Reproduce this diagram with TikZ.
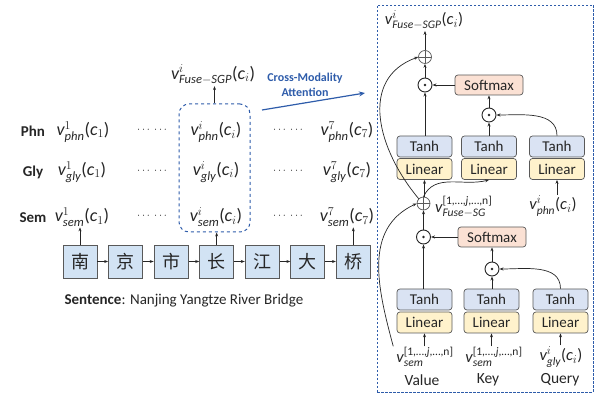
\documentclass[tikz,border=0pt]{standalone}
\usepackage{amsmath}
\usepackage{fontspec}
\setmainfont{Carlito}
\newfontfamily\cjk{Noto Sans CJK SC}
\usetikzlibrary{positioning,arrows.meta}

\definecolor{lineblue}{RGB}{46,92,170}
\definecolor{chrblue}{RGB}{210,227,244}
\definecolor{tanhblue}{RGB}{218,227,243}
\definecolor{linyellow}{RGB}{255,242,204}
\definecolor{smred}{RGB}{251,225,212}
\definecolor{edge}{RGB}{89,89,89}
\definecolor{ink}{RGB}{38,38,38}

% v with super/subscript, and its argument
\newcommand{\vsym}[2]{$\textit{v}^{#1}_{#2}$}
\newcommand{\carg}[1]{(\textit{c}$_{#1}$)}

\begin{document}
\begin{tikzpicture}[x=1pt,y=1pt,
  every node/.style={text=ink},
  arr/.style={-{Stealth[length=4pt,width=3pt]},line width=0.7pt,draw=ink},
  rowlbl/.style={font=\bfseries\fontsize{15}{17}\selectfont},
  vbig/.style={inner sep=1pt,font=\fontsize{18}{20}\selectfont},
  vsmall/.style={inner sep=1pt,font=\fontsize{16.5}{18}\selectfont},
  dots/.style={font=\fontsize{11}{12}\selectfont},
  chr/.style={draw=edge,fill=chrblue,line width=0.8pt,minimum width=34pt,minimum height=33pt,
    inner sep=0pt,font=\cjk\fontsize{18}{18}\selectfont},
  tanhbox/.style={draw=edge,fill=tanhblue,rounded corners=3pt,line width=0.7pt,
    minimum width=55pt,minimum height=21pt,inner sep=0pt,font=\fontsize{15}{16}\selectfont},
  linbox/.style={tanhbox,fill=linyellow},
  smbox/.style={tanhbox,fill=smred,minimum width=68pt,minimum height=20pt},
  oplus/.style={circle,draw=edge,line width=0.7pt,minimum size=13pt,inner sep=0pt,
    path picture={\draw[edge,line width=0.7pt] (path picture bounding box.north) -- (path picture bounding box.south)
      (path picture bounding box.west) -- (path picture bounding box.east);}},
  odot/.style={circle,draw=ink,line width=0.9pt,minimum size=14pt,inner sep=0pt,
    path picture={\fill[ink] (path picture bounding box.center) circle (1.3pt);}},
  word/.style={font=\fontsize{15.5}{17}\selectfont}]
\useasboundingbox (0,0) rectangle (603,396);

% --- left: rows of features ---
\foreach \y/\name in {265/Phn,224/Gly,178/Sem}
  \node[rowlbl] (r\name) at (33,\y) {\name};

\node[vbig] (phn1) at (83,264) {\vsym{1}{\textit{phn}}\carg{1}};
\node[vbig] (gly1) at (82,224) {\vsym{1}{\textit{gly}}\carg{1}};
\node[vbig] (sem1) at (82,179) {\vsym{1}{\textit{sem}}\carg{1}};
\node[vbig] (phni) at (216,264) {\vsym{i}{\textit{phn}}\carg{i}};
\node[vbig] (glyi) at (216,224) {\vsym{i}{\textit{gly}}\carg{i}};
\node[vbig] (semi) at (216,179) {\vsym{i}{\textit{sem}}\carg{i}};
\node[vbig] (phn7) at (347,264) {\vsym{7}{\textit{phn}}\carg{7}};
\node[vbig] (gly7) at (347,224) {\vsym{7}{\textit{gly}}\carg{7}};
\node[vbig] (sem7) at (347,179) {\vsym{7}{\textit{sem}}\carg{7}};

\foreach \y/\r in {266/a,225/b,180/c} {
  \node[dots] (dl\r) at (153,\y) {$\cdots$ $\cdots$};
  \node[dots] (dr\r) at (289,\y) {$\cdots$ $\cdots$};
}

% selected character
\node[draw=lineblue,dashed,line width=1pt,rounded corners=10pt,
  minimum width=71pt,minimum height=128pt] (sel) at (214.5,228) {};
\node[vbig] (fuseL) at (213,321) {\vsym{i}{\textit{Fuse}-\textit{SGP}}\carg{i}};
\draw[arr] (sel.north) -- (sel.north |- fuseL.south);

% cross-modality attention
\node[align=center,text=lineblue,font=\bfseries\fontsize{12}{15}\selectfont] (attn) at (305,311) {Cross-Modality\\Attention};
\coordinate (att0) at (262,286);
\coordinate (att1) at (365,303);
\draw[-{Stealth[length=6pt,width=5pt]},line width=1.2pt,lineblue] (att0) -- (att1);

% --- sentence ---
\node[chr] (c1) at (80,134.5) {南};
\node[chr,right=10.75pt of c1] (c2) {京};
\node[chr,right=10.75pt of c2] (c3) {市};
\node[chr,right=10.75pt of c3] (c4) {长};
\node[chr,right=10.75pt of c4] (c5) {江};
\node[chr,right=10.75pt of c5] (c6) {大};
\node[chr,right=10.75pt of c6] (c7) {桥};
\foreach \a/\b in {c1/c2,c2/c3,c3/c4,c4/c5,c5/c6,c6/c7}
  \draw[arr] (\a) -- (\b);
\draw[arr] (c1.north) -- (c1.north |- sem1.south);
\draw[arr] (c4.north) -- (c4.north |- sel.south);
\draw[arr] (c7.north) -- (c7.north |- sem7.south);

\node[anchor=west,font=\fontsize{15}{17}\selectfont] (sent) at (61,95) {\textbf{Sentence}: Nanjing Yangtze River Bridge};

% --- right: attention block ---
\node[draw=lineblue,line width=0.9pt,dash pattern=on 2.5pt off 1.5pt,
  minimum width=216pt,minimum height=387pt] (panel) at (485,197.5) {};

\node[vsmall] (fuseR) at (424,376) {\vsym{i}{\textit{Fuse}-\textit{SGP}}\carg{i}};
\node[oplus] (plusU) at (425,339) {};
\node[odot] (dotU) at (425,311) {};
\node[smbox] (smU) at (489,311) {Softmax};
\node[odot] (dotKU) at (489,281) {};
\foreach \x/\n in {424.5/1,489/2,557/3} {
  \node[tanhbox] (tanhU\n) at (\x,249.5) {Tanh};
  \node[linbox] (linU\n) at (\x,227) {Linear};
}

\node[oplus] (plusL) at (423.5,192.5) {};
\node[vsmall,anchor=west] (fsg) at (434,189) {\vsym{\text{[1,…,}\textit{j}\text{,…,n]}}{\textit{Fuse}-\textit{SG}}};
\node[vsmall] (phnR) at (553,190) {\vsym{i}{\textit{phn}}\carg{i}};
\node[odot] (dotL) at (423.5,159) {};
\node[smbox] (smL) at (492,159) {Softmax};
\node[odot] (dotKL) at (492,127) {};
\foreach \x/\n in {424.5/1,491.5/2,560.5/3} {
  \node[tanhbox] (tanhL\n) at (\x,96.5) {Tanh};
  \node[linbox] (linL\n) at (\x,73.5) {Linear};
}

\node[vsmall] (val) at (425,39) {\vsym{\text{[1,…,}\textit{j}\text{,…,n]}}{\textit{sem}}};
\node[vsmall] (key) at (494,39) {\vsym{\text{[1,…,}\textit{j}\text{,…,n]}}{\textit{sem}}};
\node[vsmall] (qry) at (561,39) {\vsym{i}{\textit{gly}}\carg{i}};
\node[word] (tval) at (422,16) {Value};
\node[word] (tkey) at (488,16) {Key};
\node[word] (tqry) at (560,16) {Query};

% lower attention
\draw[arr] (val.north -| linL1) -- (linL1.south);
\draw[arr] (key.north -| linL2) -- (linL2.south);
\draw[arr] (qry.north -| linL3) -- (linL3.south);
\draw[arr] (tanhL1.north -| dotL) -- (dotL.south);
\draw[arr] (tanhL2.north -| dotKL) -- (dotKL.south);
\draw[arr] (tanhL3.north) to[out=90,in=0] (dotKL.east);
\draw[arr] (dotKL.north) -- (smL.south -| dotKL);
\draw[arr] (smL.west) -- (dotL.east);
\draw[arr] (dotL.north) -- (plusL.south);
\draw[arr] ([xshift=-2pt]val.north west) to[out=105,in=-155,looseness=1.05] (plusL.west);

% upper attention
\draw[arr] (plusL.north -| linU1) -- (linU1.south);
\draw[arr] (plusL.north) to[out=65,in=-165] (linU2.south);
\draw[arr] (phnR.north -| linU3) -- (linU3.south);
\draw[arr] (tanhU1.north -| dotU) -- (dotU.south);
\draw[arr] (tanhU2.north) -- (dotKU.south);
\draw[arr] (tanhU3.north) to[out=90,in=0] (dotKU.east);
\draw[arr] (dotKU.north) -- (smU.south);
\draw[arr] (smU.west) -- (dotU.east);
\draw[arr] (dotU.north) -- (plusU.south);
\draw[arr] (plusU.north) -- (plusU.north |- fuseR.south);
\draw[arr] (plusL.north west) to[out=130,in=-160,looseness=1.15] (plusU.west);
\end{tikzpicture}
\end{document}
